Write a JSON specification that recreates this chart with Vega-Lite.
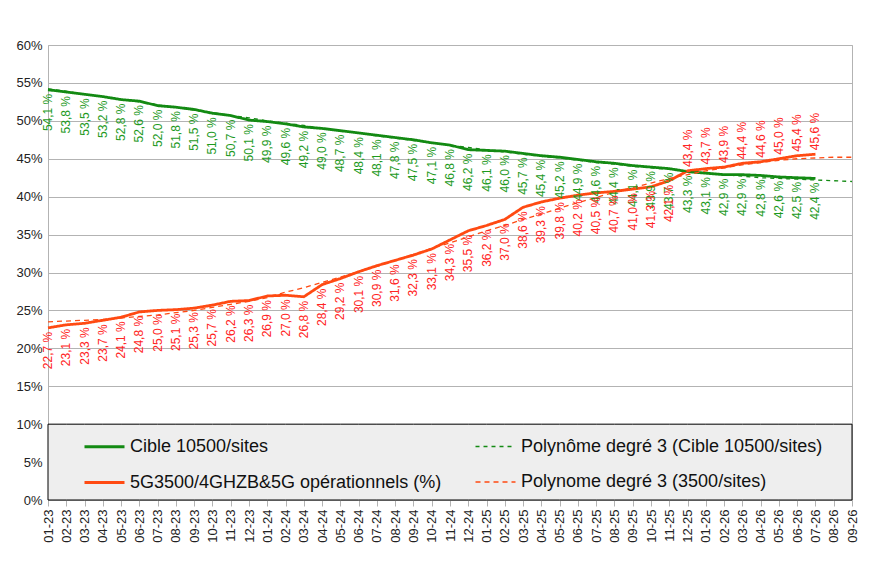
{
  "$schema": "https://vega.github.io/schema/vega-lite/v6.json",
  "width": 804,
  "height": 455,
  "autosize": {"type": "none"},
  "padding": {"left": 48, "top": 45, "right": 36, "bottom": 63},
  "config": {
    "font": "Liberation Sans",
    "view": {"stroke": "#b3b3b3"},
    "locale": {
      "number": {"decimal": ",", "thousands": " ", "grouping": [3], "currency": ["", " €"], "percent": " %"}
    }
  },
  "data": {"values": [
    {"m":"01-23","s":"C","v":0.541},{"m":"02-23","s":"C","v":0.538},{"m":"03-23","s":"C","v":0.535},{"m":"04-23","s":"C","v":0.532},
    {"m":"05-23","s":"C","v":0.528},{"m":"06-23","s":"C","v":0.526},{"m":"07-23","s":"C","v":0.520},{"m":"08-23","s":"C","v":0.518},
    {"m":"09-23","s":"C","v":0.515},{"m":"10-23","s":"C","v":0.510},{"m":"11-23","s":"C","v":0.507},{"m":"12-23","s":"C","v":0.501},
    {"m":"01-24","s":"C","v":0.499},{"m":"02-24","s":"C","v":0.496},{"m":"03-24","s":"C","v":0.492},{"m":"04-24","s":"C","v":0.490},
    {"m":"05-24","s":"C","v":0.487},{"m":"06-24","s":"C","v":0.484},{"m":"07-24","s":"C","v":0.481},{"m":"08-24","s":"C","v":0.478},
    {"m":"09-24","s":"C","v":0.475},{"m":"10-24","s":"C","v":0.471},{"m":"11-24","s":"C","v":0.468},{"m":"12-24","s":"C","v":0.462},
    {"m":"01-25","s":"C","v":0.461},{"m":"02-25","s":"C","v":0.460},{"m":"03-25","s":"C","v":0.457},{"m":"04-25","s":"C","v":0.454},
    {"m":"05-25","s":"C","v":0.452},{"m":"06-25","s":"C","v":0.449},{"m":"07-25","s":"C","v":0.446},{"m":"08-25","s":"C","v":0.444},
    {"m":"09-25","s":"C","v":0.441},{"m":"10-25","s":"C","v":0.439},{"m":"11-25","s":"C","v":0.437},{"m":"12-25","s":"C","v":0.433},
    {"m":"01-26","s":"C","v":0.431},{"m":"02-26","s":"C","v":0.429},{"m":"03-26","s":"C","v":0.429},{"m":"04-26","s":"C","v":0.428},
    {"m":"05-26","s":"C","v":0.426},{"m":"06-26","s":"C","v":0.425},{"m":"07-26","s":"C","v":0.424},

    {"m":"01-23","s":"R","v":0.227},{"m":"02-23","s":"R","v":0.231},{"m":"03-23","s":"R","v":0.233},{"m":"04-23","s":"R","v":0.237},
    {"m":"05-23","s":"R","v":0.241},{"m":"06-23","s":"R","v":0.248},{"m":"07-23","s":"R","v":0.250},{"m":"08-23","s":"R","v":0.251},
    {"m":"09-23","s":"R","v":0.253},{"m":"10-23","s":"R","v":0.257},{"m":"11-23","s":"R","v":0.262},{"m":"12-23","s":"R","v":0.263},
    {"m":"01-24","s":"R","v":0.269},{"m":"02-24","s":"R","v":0.270},{"m":"03-24","s":"R","v":0.268},{"m":"04-24","s":"R","v":0.284},
    {"m":"05-24","s":"R","v":0.292},{"m":"06-24","s":"R","v":0.301},{"m":"07-24","s":"R","v":0.309},{"m":"08-24","s":"R","v":0.316},
    {"m":"09-24","s":"R","v":0.323},{"m":"10-24","s":"R","v":0.331},{"m":"11-24","s":"R","v":0.343},{"m":"12-24","s":"R","v":0.355},
    {"m":"01-25","s":"R","v":0.362},{"m":"02-25","s":"R","v":0.370},{"m":"03-25","s":"R","v":0.386},{"m":"04-25","s":"R","v":0.393},
    {"m":"05-25","s":"R","v":0.398},{"m":"06-25","s":"R","v":0.402},{"m":"07-25","s":"R","v":0.405},{"m":"08-25","s":"R","v":0.407},
    {"m":"09-25","s":"R","v":0.410},{"m":"10-25","s":"R","v":0.413},{"m":"11-25","s":"R","v":0.421},{"m":"12-25","s":"R","v":0.434},
    {"m":"01-26","s":"R","v":0.437},{"m":"02-26","s":"R","v":0.439},{"m":"03-26","s":"R","v":0.444},{"m":"04-26","s":"R","v":0.446},
    {"m":"05-26","s":"R","v":0.450},{"m":"06-26","s":"R","v":0.454},{"m":"07-26","s":"R","v":0.456},

    {"m":"01-23","s":"TC","v":0.542},{"m":"02-23","s":"TC","v":0.539},{"m":"03-23","s":"TC","v":0.535},{"m":"04-23","s":"TC","v":0.532},
    {"m":"05-23","s":"TC","v":0.528},{"m":"06-23","s":"TC","v":0.525},{"m":"07-23","s":"TC","v":0.521},{"m":"08-23","s":"TC","v":0.518},
    {"m":"09-23","s":"TC","v":0.514},{"m":"10-23","s":"TC","v":0.511},{"m":"11-23","s":"TC","v":0.507},{"m":"12-23","s":"TC","v":0.504},
    {"m":"01-24","s":"TC","v":0.500},{"m":"02-24","s":"TC","v":0.497},{"m":"03-24","s":"TC","v":0.494},{"m":"04-24","s":"TC","v":0.490},
    {"m":"05-24","s":"TC","v":0.487},{"m":"06-24","s":"TC","v":0.484},{"m":"07-24","s":"TC","v":0.480},{"m":"08-24","s":"TC","v":0.477},
    {"m":"09-24","s":"TC","v":0.474},{"m":"10-24","s":"TC","v":0.471},{"m":"11-24","s":"TC","v":0.468},{"m":"12-24","s":"TC","v":0.465},
    {"m":"01-25","s":"TC","v":0.462},{"m":"02-25","s":"TC","v":0.459},{"m":"03-25","s":"TC","v":0.456},{"m":"04-25","s":"TC","v":0.453},
    {"m":"05-25","s":"TC","v":0.451},{"m":"06-25","s":"TC","v":0.448},{"m":"07-25","s":"TC","v":0.445},{"m":"08-25","s":"TC","v":0.443},
    {"m":"09-25","s":"TC","v":0.440},{"m":"10-25","s":"TC","v":0.438},{"m":"11-25","s":"TC","v":0.436},{"m":"12-25","s":"TC","v":0.433},
    {"m":"01-26","s":"TC","v":0.431},{"m":"02-26","s":"TC","v":0.429},{"m":"03-26","s":"TC","v":0.427},{"m":"04-26","s":"TC","v":0.425},
    {"m":"05-26","s":"TC","v":0.424},{"m":"06-26","s":"TC","v":0.423},{"m":"07-26","s":"TC","v":0.422},{"m":"08-26","s":"TC","v":0.421},
    {"m":"09-26","s":"TC","v":0.420},

    {"m":"01-23","s":"TR","v":0.235},{"m":"02-23","s":"TR","v":0.236},{"m":"03-23","s":"TR","v":0.237},{"m":"04-23","s":"TR","v":0.238},
    {"m":"05-23","s":"TR","v":0.240},{"m":"06-23","s":"TR","v":0.242},{"m":"07-23","s":"TR","v":0.244},{"m":"08-23","s":"TR","v":0.247},
    {"m":"09-23","s":"TR","v":0.250},{"m":"10-23","s":"TR","v":0.254},{"m":"11-23","s":"TR","v":0.258},{"m":"12-23","s":"TR","v":0.262},
    {"m":"01-24","s":"TR","v":0.267},{"m":"02-24","s":"TR","v":0.274},{"m":"03-24","s":"TR","v":0.280},{"m":"04-24","s":"TR","v":0.287},
    {"m":"05-24","s":"TR","v":0.294},{"m":"06-24","s":"TR","v":0.301},{"m":"07-24","s":"TR","v":0.308},{"m":"08-24","s":"TR","v":0.316},
    {"m":"09-24","s":"TR","v":0.324},{"m":"10-24","s":"TR","v":0.332},{"m":"11-24","s":"TR","v":0.339},{"m":"12-24","s":"TR","v":0.347},
    {"m":"01-25","s":"TR","v":0.355},{"m":"02-25","s":"TR","v":0.362},{"m":"03-25","s":"TR","v":0.370},{"m":"04-25","s":"TR","v":0.377},
    {"m":"05-25","s":"TR","v":0.385},{"m":"06-25","s":"TR","v":0.392},{"m":"07-25","s":"TR","v":0.399},{"m":"08-25","s":"TR","v":0.406},
    {"m":"09-25","s":"TR","v":0.412},{"m":"10-25","s":"TR","v":0.418},{"m":"11-25","s":"TR","v":0.424},{"m":"12-25","s":"TR","v":0.429},
    {"m":"01-26","s":"TR","v":0.434},{"m":"02-26","s":"TR","v":0.438},{"m":"03-26","s":"TR","v":0.442},{"m":"04-26","s":"TR","v":0.445},
    {"m":"05-26","s":"TR","v":0.448},{"m":"06-26","s":"TR","v":0.450},{"m":"07-26","s":"TR","v":0.451},{"m":"08-26","s":"TR","v":0.452},
    {"m":"09-26","s":"TR","v":0.452}
  ]},
  "encoding": {
    "x": {
      "field": "m",
      "type": "ordinal",
      "scale": {
        "type": "point",
        "padding": 0,
        "domain": ["01-23","02-23","03-23","04-23","05-23","06-23","07-23","08-23","09-23","10-23","11-23","12-23",
                   "01-24","02-24","03-24","04-24","05-24","06-24","07-24","08-24","09-24","10-24","11-24","12-24",
                   "01-25","02-25","03-25","04-25","05-25","06-25","07-25","08-25","09-25","10-25","11-25","12-25",
                   "01-26","02-26","03-26","04-26","05-26","06-26","07-26","08-26","09-26"]
      },
      "axis": {
        "title": null,
        "labelAngle": -90,
        "labelAlign": "right",
        "labelBaseline": "middle",
        "labelFontSize": 13,
        "labelColor": "#222",
        "labelPadding": 3,
        "tickSize": 6,
        "tickColor": "#b3b3b3",
        "domainColor": "#b3b3b3",
        "grid": false
      }
    },
    "y": {
      "field": "v",
      "type": "quantitative",
      "scale": {"domain": [0, 0.6], "nice": false},
      "axis": {
        "title": null,
        "values": [0, 0.05, 0.1, 0.15, 0.2, 0.25, 0.3, 0.35, 0.4, 0.45, 0.5, 0.55, 0.6],
        "labelExpr": "round(datum.value * 100) + '%'",
        "labelFontSize": 13,
        "labelColor": "#222",
        "labelPadding": 6,
        "ticks": false,
        "domain": false,
        "gridColor": "#b3b3b3"
      }
    }
  },
  "layer": [
    {
      "transform": [{"filter": "datum.s === 'TC'"}],
      "mark": {"type": "area", "fill": "#eeeeee", "stroke": "#000000", "strokeWidth": 1, "interpolate": "linear"},
      "encoding": {
        "y": {"datum": 0.1, "type": "quantitative"},
        "y2": {"datum": 0}
      }
    },
    {
      "mark": {"type": "line"},
      "encoding": {
        "color": {
          "field": "s",
          "type": "nominal",
          "scale": {
            "domain": ["C", "R", "TC", "TR"],
            "range": ["#138a13", "#ff4a12", "#138a13", "#ff4a12"]
          },
          "legend": {
            "title": null,
            "orient": "none",
            "legendX": 35,
            "legendY": 380,
            "columns": 2,
            "columnPadding": 30,
            "rowPadding": 5,
            "padding": 0,
            "symbolType": "stroke",
            "symbolSize": 1600,
            "labelFontSize": 18,
            "labelColor": "#111",
            "labelOffset": 4,
            "labelLimit": 400,
            "labelExpr": "{'C': 'Cible 10500/sites', 'TC': 'Polynôme degré 3 (Cible 10500/sites)', 'R': '5G3500/4GHZB&5G opérationnels (%)', 'TR': 'Polynome degré 3 (3500/sites)'}[datum.label]"
          }
        },
        "strokeDash": {
          "field": "s",
          "type": "nominal",
          "scale": {
            "type": "ordinal",
            "domain": ["C", "R", "TC", "TR"],
            "range": [[1, 0], [1, 0], [4, 4], [5, 4]]
          },
          "legend": null
        },
        "strokeWidth": {
          "field": "s",
          "type": "nominal",
          "scale": {
            "type": "ordinal",
            "domain": ["C", "R", "TC", "TR"],
            "range": [2.8, 2.8, 1.3, 1.3]
          },
          "legend": null
        }
      }
    },
    {
      "transform": [{"filter": "datum.s === 'C'"}],
      "mark": {"type": "text", "angle": 270, "align": "right", "baseline": "middle", "dx": -4, "fontSize": 12, "color": "#1e9a1e"},
      "encoding": {"text": {"field": "v", "type": "quantitative", "format": ".1%"}}
    },
    {
      "transform": [
        {"filter": "datum.s === 'R'"},
        {"filter": {"not": {"field": "m", "oneOf": ["12-25","01-26","02-26","03-26","04-26","05-26","06-26","07-26"]}}}
      ],
      "mark": {"type": "text", "angle": 270, "align": "right", "baseline": "middle", "dx": -4, "fontSize": 12, "color": "#ff2424"},
      "encoding": {"text": {"field": "v", "type": "quantitative", "format": ".1%"}}
    },
    {
      "transform": [
        {"filter": "datum.s === 'R'"},
        {"filter": {"field": "m", "oneOf": ["12-25","01-26","02-26","03-26","04-26","05-26","06-26","07-26"]}}
      ],
      "mark": {"type": "text", "angle": 270, "align": "left", "baseline": "middle", "dx": 4, "fontSize": 12, "color": "#ff2424"},
      "encoding": {"text": {"field": "v", "type": "quantitative", "format": ".1%"}}
    }
  ]
}
